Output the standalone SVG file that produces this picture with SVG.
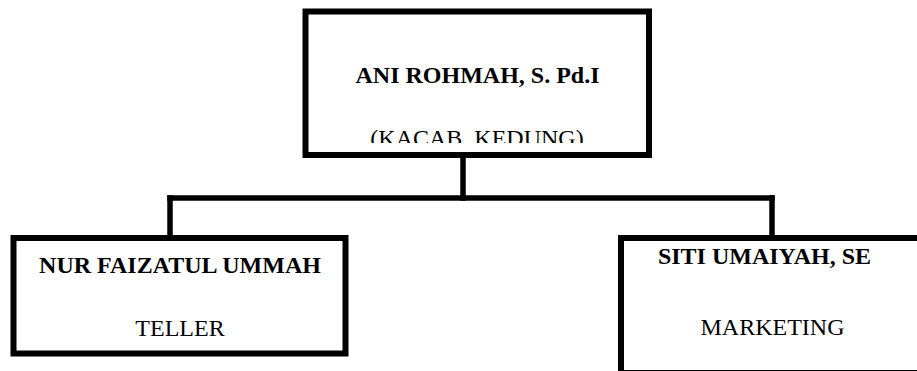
<svg xmlns="http://www.w3.org/2000/svg" width="917" height="371" viewBox="0 0 917 371">
<style>
.box{fill:#fff;stroke:#000;stroke-width:6}
.con{fill:none;stroke:#000;stroke-width:5.5;stroke-linecap:square}
.t{font-family:"Liberation Serif","Times New Roman",serif;font-size:24px;fill:#000}
.b{font-weight:bold}
</style>
<defs>
<clipPath id="clipTop"><rect x="309" y="15" width="334" height="128"/></clipPath>
</defs>
<rect width="917" height="371" fill="#fff"/>
<g id="connectors">
<line class="con" x1="463" y1="158" x2="463" y2="198"/>
<line class="con" x1="170" y1="198" x2="772" y2="198"/>
<line class="con" x1="170" y1="198" x2="170" y2="236"/>
<line class="con" x1="772" y1="198" x2="772" y2="236"/>
</g>
<g id="node-kacab">
<rect class="box" x="305.5" y="11.5" width="343.5" height="143.5"/>
<text class="t b" x="477.5" y="83" text-anchor="middle">ANI ROHMAH, S. Pd.I</text>
<text class="t" x="477" y="146" text-anchor="middle" clip-path="url(#clipTop)">(KACAB. KEDUNG)</text>
</g>
<g id="node-teller">
<rect class="box" x="13.5" y="238" width="332" height="115.5"/>
<text class="t b" x="180" y="273" text-anchor="middle">NUR FAIZATUL UMMAH</text>
<text class="t" x="180" y="336" text-anchor="middle">TELLER</text>
</g>
<g id="node-marketing">
<rect class="box" x="621" y="238" width="320" height="135"/>
<text class="t b" x="764.5" y="264" text-anchor="middle">SITI UMAIYAH, SE</text>
<text class="t" x="772.5" y="335" text-anchor="middle">MARKETING</text>
</g>
</svg>
